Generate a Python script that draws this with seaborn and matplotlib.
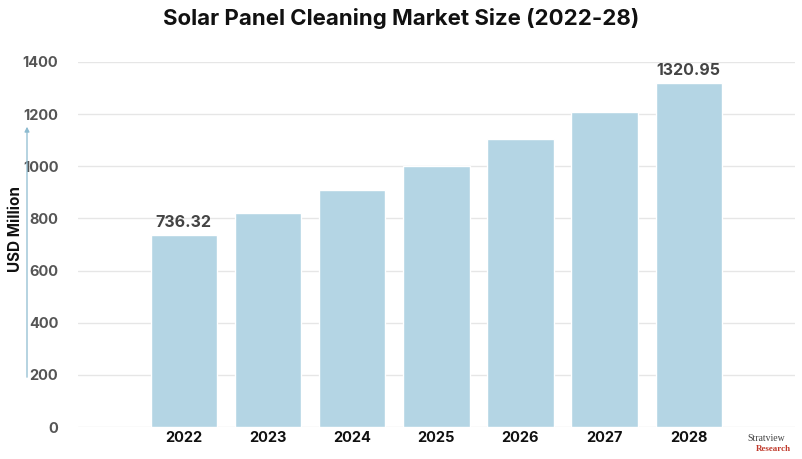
import matplotlib
matplotlib.use("Agg")
import matplotlib.pyplot as plt
import seaborn as sns
import pandas as pd
from matplotlib.patches import FancyArrowPatch

years = ["2022", "2023", "2024", "2025", "2026", "2027", "2028"]
values = [736.32, 820, 908, 1001, 1105, 1210, 1320.95]
labeled = {"2022": "736.32", "2028": "1320.95"}
yticks = [0, 200, 400, 600, 800, 1000, 1200, 1400]

df = pd.DataFrame({"Year": years, "Value": values})

sns.set_theme(style="white")
plt.rcParams['font.family'] = ['Inter', 'DejaVu Sans']

fig = plt.figure(figsize=(8.02, 4.59), dpi=100)
ax = fig.add_axes([0.097, 0.0697, 0.894, 0.7953])

sns.barplot(data=df, x="Year", y="Value", color="#b4d5e4", width=0.79,
            saturation=1, ax=ax, zorder=3)

ax.set_ylim(0, 1400)
ax.set_xlim(-1.26, len(years) - 1 + 1.26)
ax.set_yticks(yticks)
ax.set_yticklabels([str(t) for t in yticks], fontsize=10.5, fontweight="bold", color="#555555")
ax.tick_params(axis="y", length=0, pad=14)
ax.tick_params(axis="x", length=0, pad=3)
for lbl in ax.get_xticklabels():
    lbl.set_fontsize(10.5)
    lbl.set_fontweight("bold")
    lbl.set_color("#111111")
ax.yaxis.grid(True, color="#e6e6e6", linewidth=1, zorder=0)
for s in ax.spines.values():
    s.set_visible(False)
ax.set_xlabel("")
ax.set_ylabel("")

for i, (y, v) in enumerate(zip(years, values)):
    if y in labeled:
        ax.text(i, v + 18, labeled[y], ha="center", va="bottom", fontsize=11.5,
                fontweight="bold", color="#444444")

fig.text(0.5, 0.96, "Solar Panel Cleaning Market Size (2022-28)", ha="center", va="center",
         fontsize=16, fontweight="bold", color="#111111")
fig.text(0.019, 0.5, "USD Million", rotation=90, ha="center", va="center",
         fontsize=11, fontweight="bold", color="#111111")

arrow = FancyArrowPatch((27 / 802, 1 - 380 / 459), (27 / 802, 1 - 124 / 459),
                        transform=fig.transFigure, arrowstyle="-|>", mutation_scale=7,
                        color="#8dbbd0", linewidth=0.9)
fig.add_artist(arrow)

fig.text(0.955, 0.045, "Stratview", ha="center", va="center", fontsize=7,
         family="Liberation Serif", color="#444444")
fig.text(0.965, 0.022, "Research", ha="center", va="center", fontsize=6.5,
         family="Liberation Serif", fontweight="bold", color="#c0392b")

fig.savefig("out.png", dpi=100)
